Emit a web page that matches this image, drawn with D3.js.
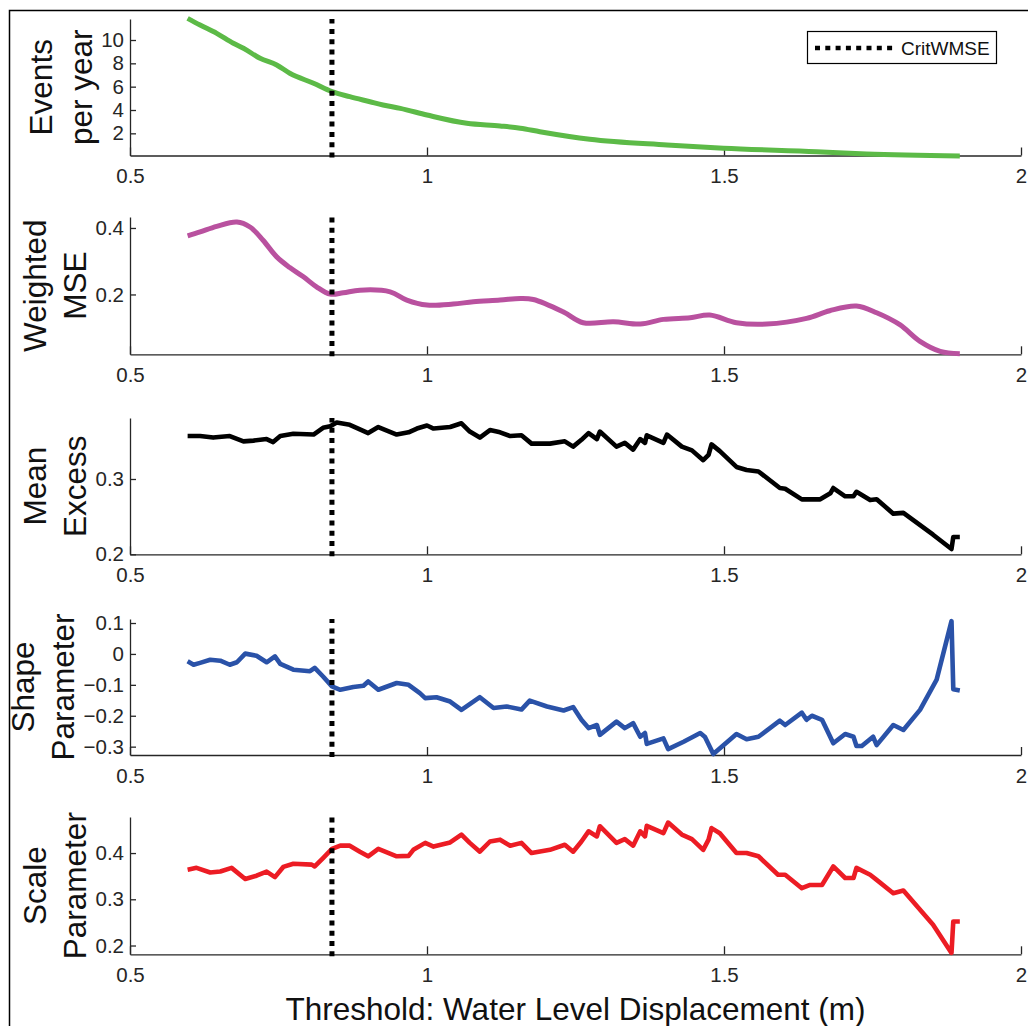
<!DOCTYPE html>
<html>
<head>
<meta charset="utf-8">
<script src="https://d3js.org/d3.v7.min.js"></script>
<style>
body { margin: 0; background: #fff; }
svg text { font-family: "Liberation Sans", Arial, Helvetica, sans-serif; }
</style>
</head>
<body>
<div id="chart"></div>
<script>
// x axis ticks shared by all panels, threshold chosen by weighted MSE
const xTicks = [0.5, 1, 1.5, 2];
const critWMSE = 0.84;

// [threshold, value]
const eventsPerYear = [[0.597,11.85],[0.618,11.28],[0.646,10.57],[0.674,9.72],[0.691,9.29],[0.719,8.43],[0.747,7.86],[0.769,7.15],[0.809,6.29],[0.840,5.57],[0.870,5.14],[0.904,4.71],[0.926,4.43],[0.955,4.14],[1.000,3.57],[1.067,2.86],[1.123,2.63],[1.157,2.44],[1.190,2.14],[1.274,1.49],[1.404,1.00],[1.499,0.72],[1.656,0.43],[1.740,0.23],[1.897,0.06]];

const weightedMSE = [[0.597,0.376],[0.618,0.388],[0.646,0.405],[0.680,0.418],[0.702,0.403],[0.724,0.363],[0.747,0.313],[0.769,0.281],[0.792,0.253],[0.814,0.223],[0.837,0.201],[0.859,0.205],[0.887,0.213],[0.938,0.208],[0.966,0.183],[1.000,0.168],[1.044,0.171],[1.078,0.178],[1.123,0.183],[1.157,0.188],[1.179,0.185],[1.229,0.148],[1.263,0.115],[1.314,0.118],[1.359,0.111],[1.398,0.125],[1.443,0.130],[1.476,0.138],[1.521,0.115],[1.572,0.111],[1.639,0.128],[1.678,0.151],[1.723,0.165],[1.757,0.145],[1.796,0.109],[1.830,0.059],[1.864,0.029],[1.897,0.022]];

const meanExcess = [[0.597,0.357],[0.618,0.357],[0.640,0.355],[0.668,0.357],[0.691,0.350],[0.708,0.351],[0.730,0.353],[0.741,0.349],[0.753,0.357],[0.775,0.360],[0.809,0.359],[0.825,0.368],[0.837,0.370],[0.848,0.375],[0.870,0.372],[0.887,0.366],[0.901,0.361],[0.918,0.369],[0.949,0.359],[0.969,0.362],[0.983,0.367],[1.000,0.371],[1.011,0.367],[1.039,0.369],[1.058,0.374],[1.072,0.363],[1.089,0.355],[1.106,0.365],[1.123,0.362],[1.140,0.357],[1.159,0.358],[1.176,0.347],[1.207,0.347],[1.232,0.350],[1.246,0.343],[1.260,0.352],[1.272,0.361],[1.286,0.353],[1.291,0.363],[1.319,0.343],[1.333,0.348],[1.347,0.339],[1.359,0.353],[1.367,0.348],[1.370,0.358],[1.398,0.348],[1.404,0.359],[1.429,0.343],[1.446,0.338],[1.465,0.325],[1.474,0.332],[1.479,0.346],[1.493,0.337],[1.521,0.316],[1.538,0.312],[1.558,0.310],[1.594,0.288],[1.603,0.287],[1.631,0.273],[1.662,0.273],[1.679,0.281],[1.684,0.288],[1.704,0.277],[1.718,0.277],[1.723,0.283],[1.746,0.272],[1.757,0.273],[1.785,0.254],[1.802,0.255],[1.852,0.226],[1.883,0.207],[1.886,0.223],[1.897,0.223]];

const shapeParam = [[0.597,-0.024],[0.607,-0.035],[0.618,-0.029],[0.635,-0.019],[0.652,-0.022],[0.668,-0.035],[0.680,-0.027],[0.694,0.001],[0.713,-0.006],[0.730,-0.027],[0.744,-0.008],[0.753,-0.032],[0.775,-0.051],[0.803,-0.056],[0.811,-0.045],[0.825,-0.073],[0.840,-0.105],[0.854,-0.116],[0.876,-0.107],[0.893,-0.103],[0.901,-0.089],[0.918,-0.116],[0.949,-0.094],[0.969,-0.100],[0.988,-0.127],[0.997,-0.143],[1.016,-0.140],[1.039,-0.154],[1.058,-0.181],[1.089,-0.140],[1.112,-0.175],[1.134,-0.170],[1.159,-0.180],[1.173,-0.151],[1.202,-0.170],[1.230,-0.183],[1.246,-0.172],[1.260,-0.213],[1.272,-0.240],[1.286,-0.230],[1.291,-0.262],[1.319,-0.219],[1.333,-0.240],[1.347,-0.224],[1.359,-0.268],[1.367,-0.256],[1.370,-0.291],[1.398,-0.273],[1.406,-0.308],[1.432,-0.284],[1.460,-0.256],[1.468,-0.269],[1.482,-0.324],[1.521,-0.259],[1.538,-0.276],[1.558,-0.268],[1.594,-0.216],[1.603,-0.230],[1.631,-0.190],[1.639,-0.213],[1.648,-0.200],[1.665,-0.213],[1.684,-0.289],[1.704,-0.259],[1.718,-0.268],[1.723,-0.298],[1.732,-0.298],[1.751,-0.268],[1.757,-0.295],[1.785,-0.230],[1.802,-0.246],[1.830,-0.181],[1.858,-0.083],[1.883,0.106],[1.886,-0.114],[1.897,-0.118]];

const scaleParam = [[0.597,0.364],[0.612,0.368],[0.635,0.358],[0.652,0.360],[0.671,0.368],[0.694,0.344],[0.713,0.351],[0.730,0.360],[0.744,0.348],[0.758,0.370],[0.775,0.377],[0.806,0.375],[0.811,0.371],[0.825,0.389],[0.840,0.409],[0.854,0.416],[0.870,0.416],[0.887,0.403],[0.901,0.393],[0.918,0.409],[0.949,0.393],[0.969,0.394],[0.977,0.407],[0.997,0.422],[1.011,0.414],[1.039,0.423],[1.058,0.440],[1.072,0.422],[1.089,0.403],[1.106,0.425],[1.123,0.429],[1.140,0.416],[1.159,0.422],[1.176,0.400],[1.207,0.407],[1.232,0.418],[1.246,0.403],[1.260,0.425],[1.272,0.447],[1.286,0.436],[1.291,0.458],[1.319,0.422],[1.333,0.430],[1.347,0.416],[1.359,0.447],[1.367,0.436],[1.370,0.459],[1.398,0.443],[1.406,0.466],[1.429,0.440],[1.446,0.430],[1.465,0.407],[1.474,0.429],[1.479,0.454],[1.493,0.443],[1.521,0.400],[1.538,0.400],[1.558,0.393],[1.591,0.353],[1.603,0.353],[1.631,0.324],[1.645,0.331],[1.665,0.331],[1.684,0.371],[1.704,0.346],[1.718,0.346],[1.723,0.368],[1.746,0.353],[1.757,0.342],[1.785,0.313],[1.802,0.319],[1.852,0.245],[1.883,0.184],[1.886,0.252],[1.897,0.252]];

const yLabels = [["Events", "per year"], ["Weighted", "MSE"], ["Mean", "Excess"], ["Shape", "Parameter"], ["Scale", "Parameter"]];
const yDomains = [[0.1, 11.8], [0.02, 0.433], [0.2, 0.381], [-0.327, 0.113], [0.181, 0.478]];
const yTicks = [[2, 4, 6, 8, 10], [0.2, 0.4], [0.2, 0.3], [-0.3, -0.2, -0.1, 0, 0.1], [0.2, 0.3, 0.4]];
const series = [eventsPerYear, weightedMSE, meanExcess, shapeParam, scaleParam];
const colors = ["#5cba47", "#b9519f", "#000000", "#2a52a8", "#ec1c24"];

// layout
const W = 1028, H = 1026;
const axLeft = 130, axRight = 1021;
const panelTops = [19, 217, 418, 619, 817];
const panelBottoms = [155.5, 354.3, 554.3, 755, 954.3];
const tickFont = 20.5, labelFont = 31.5, axisColor = "#262626";

const svg = d3.select("#chart").append("svg")
    .attr("width", W)
    .attr("height", H)
    .style("background", "#fff");

// outer figure frame (runs past the right and bottom edges)
svg.append("rect")
    .attr("x", 9.5).attr("y", 10.5)
    .attr("width", 1100).attr("height", 1100)
    .attr("fill", "none")
    .attr("stroke", "#000")
    .attr("stroke-width", 1.5);

const x = d3.scaleLinear().domain([0.5, 2]).range([axLeft, axRight]);

series.forEach(function (data, i) {
    const top = panelTops[i], bottom = panelBottoms[i];
    const y = d3.scaleLinear().domain(yDomains[i]).range([bottom, top]);
    const g = svg.append("g");

    // x axis, ticks pointing inward
    const xg = g.append("g")
        .attr("transform", `translate(0, ${bottom})`)
        .call(d3.axisBottom(x).tickValues(xTicks).tickFormat(d3.format("~g"))
            .tickSizeInner(-8).tickSizeOuter(0).tickPadding(13));

    // y axis
    const yg = g.append("g")
        .attr("transform", `translate(${axLeft}, 0)`)
        .call(d3.axisLeft(y).tickValues(yTicks[i]).tickFormat(d3.format("~g"))
            .tickSizeInner(-6).tickSizeOuter(0).tickPadding(6));

    [xg, yg].forEach(function (a) {
        a.select(".domain").attr("stroke", axisColor).attr("stroke-width", 1.3);
        a.selectAll(".tick line").attr("stroke", axisColor).attr("stroke-width", 1.3);
        a.selectAll(".tick text").attr("fill", axisColor)
            .style("font-size", tickFont + "px")
            .style("font-family", '"Liberation Sans", Arial, sans-serif');
    });

    // data line
    const line = d3.line()
        .x(d => x(d[0]))
        .y(d => y(d[1]))
        .curve(i === 1 ? d3.curveCatmullRom.alpha(0.5) : (i === 0 ? d3.curveMonotoneX : d3.curveLinear));

    g.append("path")
        .datum(data)
        .attr("fill", "none")
        .attr("stroke", colors[i])
        .attr("stroke-width", i === 0 || i === 1 ? 5 : 4.6)
        .attr("stroke-linejoin", "round")
        .attr("d", line);

    // critical threshold marker
    g.append("line")
        .attr("x1", x(critWMSE)).attr("x2", x(critWMSE))
        .attr("y1", bottom + 2).attr("y2", top)
        .attr("stroke", "#000")
        .attr("stroke-width", 5)
        .attr("stroke-dasharray", "5 5.3");

    // two-line y label, placed left of the tick labels
    const tb = yg.node().getBBox();
    const base2 = axLeft + tb.x - 3 - 0.21 * labelFont;
    const base1 = base2 - 40;
    const cy = (top + bottom) / 2;
    const lab = svg.append("text")
        .attr("transform", `translate(0, ${cy}) rotate(-90)`)
        .attr("text-anchor", "middle")
        .attr("fill", "#111")
        .style("font-size", labelFont + "px");
    lab.append("tspan").attr("x", 0).attr("y", base1).text(yLabels[i][0]);
    lab.append("tspan").attr("x", 0).attr("y", base2).text(yLabels[i][1]);
});

// legend
const leg = svg.append("g");
leg.append("rect")
    .attr("x", 807.5).attr("y", 31.5)
    .attr("width", 189).attr("height", 32)
    .attr("fill", "#fff")
    .attr("stroke", "#000")
    .attr("stroke-width", 1.2);
leg.append("line")
    .attr("x1", 815).attr("x2", 893)
    .attr("y1", 48).attr("y2", 48)
    .attr("stroke", "#000")
    .attr("stroke-width", 4.5)
    .attr("stroke-dasharray", "5 5.3");
leg.append("text")
    .attr("x", 901).attr("y", 55)
    .attr("fill", "#111")
    .style("font-size", "19px")
    .text("CritWMSE");

// x axis title
svg.append("text")
    .attr("x", (axLeft + axRight) / 2)
    .attr("y", 1020)
    .attr("text-anchor", "middle")
    .attr("fill", "#111")
    .style("font-size", labelFont + "px")
    .text("Threshold: Water Level Displacement (m)");
</script>
</body>
</html>
